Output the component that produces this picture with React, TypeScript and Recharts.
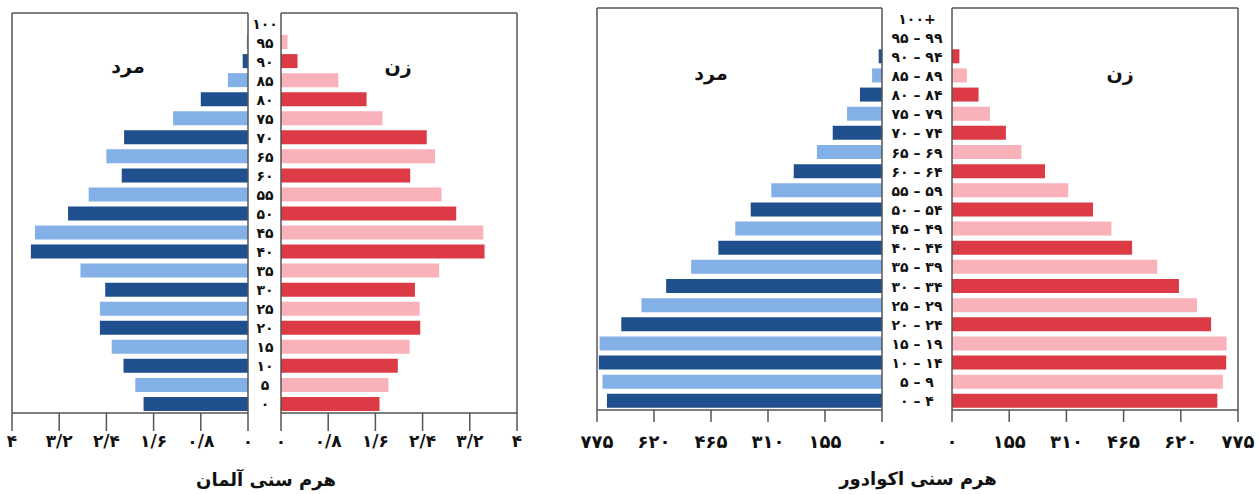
import { BarChart, Bar, XAxis, YAxis, Cell } from "recharts";

// Germany (percent of population), age 0 -> 100
const deAges = ["۰", "۵", "۱۰", "۱۵", "۲۰", "۲۵", "۳۰", "۳۵", "۴۰", "۴۵", "۵۰", "۵۵", "۶۰", "۶۵", "۷۰", "۷۵", "۸۰", "۸۵", "۹۰", "۹۵", "۱۰۰"];
const deMale = [1.77, 1.91, 2.11, 2.31, 2.51, 2.51, 2.42, 2.84, 3.68, 3.61, 3.05, 2.7, 2.14, 2.4, 2.1, 1.27, 0.8, 0.34, 0.09, 0.02, 0];
const deFemale = [1.67, 1.82, 1.98, 2.18, 2.36, 2.35, 2.27, 2.68, 3.45, 3.43, 2.97, 2.72, 2.19, 2.61, 2.47, 1.72, 1.45, 0.97, 0.28, 0.11, 0];
const deTicks = [0, 0.8, 1.6, 2.4, 3.2, 4];
const deTickLabels = ["۰", "۰/۸", "۱/۶", "۲/۴", "۳/۲", "۴"];

// Ecuador (thousands), age group 0-4 -> 100+
const ecAges = ["۰ – ۴", "۵ – ۹", "۱۰ – ۱۴", "۱۵ – ۱۹", "۲۰ – ۲۴", "۲۵ – ۲۹", "۳۰ – ۳۴", "۳۵ – ۳۹", "۴۰ – ۴۴", "۴۵ – ۴۹", "۵۰ – ۵۴", "۵۵ – ۵۹", "۶۰ – ۶۴", "۶۵ – ۶۹", "۷۰ – ۷۴", "۷۵ – ۷۹", "۸۰ – ۸۴", "۸۵ – ۸۹", "۹۰ – ۹۴", "۹۵ – ۹۹", "۱۰۰+"];
const ecMale = [748, 760, 770, 768, 709, 654, 587, 519, 445, 399, 357, 301, 240, 177, 134, 95, 60, 27, 9, 0, 0];
const ecFemale = [719, 734, 743, 744, 702, 664, 615, 556, 488, 432, 382, 315, 252, 188, 146, 103, 72, 40, 20, 0, 0];
const ecTicks = [0, 155, 310, 465, 620, 775];
const ecTickLabels = ["۰", "۱۵۵", "۳۱۰", "۴۶۵", "۶۲۰", "۷۷۵"];

const BLUE_DARK = "#1f4f8c";
const BLUE_LIGHT = "#84b0e8";
const RED_DARK = "#dc3b45";
const RED_LIGHT = "#f9b1ba";
const LINE = "#555";
const FONT = "'DejaVu Sans', sans-serif";
const H = 470;
const LABEL_Y = 441;
const PAD = 20;
const LTR: React.CSSProperties = { direction: "ltr", unicodeBidi: "bidi-override" };

type PanelProps = {
  ages: string[];
  values: number[];
  side: "male" | "female";
  ticks: number[];
  tickLabels: string[];
  plotLeft: number;
  plotTop: number;
  plotBottom: number;
  plotWidth: number;
  gap: number;
  tickSize: number;
  labelOffset: number;
  tickFont: number;
  tickSpacing: number;
};

function Panel({ ages, values, side, ticks, tickLabels, plotLeft, plotTop, plotBottom, plotWidth, gap, tickSize, labelOffset, tickFont, tickSpacing }: PanelProps) {
  const isMale = side === "male";
  const data = ages.map((age, i) => ({ age, value: values[i] }));
  const leftAxisW = isMale ? 1 : gap;
  const marginLeft = isMale ? PAD : 0;
  const divLeft = plotLeft - leftAxisW - marginLeft;
  const width = marginLeft + leftAxisW + plotWidth + 1 + PAD;
  const axisStyle = { stroke: LINE, strokeWidth: 1.5 };
  const max = ticks[ticks.length - 1];

  const xTick = ({ x, payload }: { x: number; payload: { value: number } }) => (
    <text x={x} y={LABEL_Y} textAnchor="middle" dominantBaseline="central"
      fontFamily={FONT} fontWeight="bold" fontSize={tickFont} letterSpacing={tickSpacing}
      fill="#111" style={LTR}>
      {tickLabels[ticks.indexOf(payload.value)]}
    </text>
  );

  const ageTick = ({ x, y, payload }: { x: number; y: number; payload: { value: string } }) => (
    <text x={x - labelOffset} y={y + 1} textAnchor="middle" dominantBaseline="central"
      fontFamily={FONT} fontWeight="bold" fontSize={14} fill="#111" style={LTR}>
      {payload.value}
    </text>
  );

  return (
    <div style={{ position: "absolute", left: divLeft, top: 0 }}>
      <BarChart
        width={width}
        height={H}
        layout="vertical"
        data={data}
        margin={{ top: plotTop - 1, right: PAD, bottom: 0, left: marginLeft }}
        barSize={14}
      >
        <XAxis xAxisId="b" type="number" domain={[0, max]} ticks={ticks} reversed={isMale}
          height={H - plotBottom} tickSize={tickSize} tickLine={axisStyle} axisLine={axisStyle}
          tick={xTick} interval={0} />
        <XAxis xAxisId="t" orientation="top" type="number" domain={[0, max]} reversed={isMale}
          height={1} tick={false} tickLine={false} axisLine={axisStyle} />
        <YAxis yAxisId="main" type="category" dataKey="age" reversed orientation="left"
          width={leftAxisW} tickSize={0} tickMargin={0} tickLine={false}
          tick={isMale ? false : ageTick} interval={0} axisLine={axisStyle} />
        <YAxis yAxisId="r" type="category" dataKey="age" reversed orientation="right"
          width={1} tick={false} tickLine={false} axisLine={axisStyle} />
        <Bar dataKey="value" xAxisId="b" yAxisId="main" isAnimationActive={false}>
          {data.map((_, i) => (
            <Cell key={i}
              fill={isMale ? (i % 2 === 0 ? BLUE_DARK : BLUE_LIGHT) : i % 2 === 0 ? RED_DARK : RED_LIGHT} />
          ))}
        </Bar>
      </BarChart>
    </div>
  );
}

const textStyle = (x: number, y: number, size: number): React.CSSProperties => ({
  position: "absolute",
  left: x,
  top: y,
  transform: "translate(-50%, -50%)",
  fontFamily: FONT,
  fontWeight: "bold",
  fontSize: size,
  color: "#111",
  direction: "rtl",
  whiteSpace: "nowrap",
});

export default function App() {
  return (
    <div style={{ position: "absolute", left: 0, top: 0, width: 1259, height: 494, background: "#fff" }}>
      <Panel ages={deAges} values={deMale} side="male" ticks={deTicks} tickLabels={deTickLabels}
        plotLeft={12} plotTop={13} plotBottom={413} plotWidth={236} gap={33} tickSize={18}
        labelOffset={16} tickFont={17} tickSpacing={3} />
      <Panel ages={deAges} values={deFemale} side="female" ticks={deTicks} tickLabels={deTickLabels}
        plotLeft={281} plotTop={13} plotBottom={413} plotWidth={236} gap={33} tickSize={18}
        labelOffset={16} tickFont={17} tickSpacing={3} />
      <Panel ages={ecAges} values={ecMale} side="male" ticks={ecTicks} tickLabels={ecTickLabels}
        plotLeft={597} plotTop={8} plotBottom={410} plotWidth={285} gap={70} tickSize={12}
        labelOffset={35} tickFont={18} tickSpacing={0} />
      <Panel ages={ecAges} values={ecFemale} side="female" ticks={ecTicks} tickLabels={ecTickLabels}
        plotLeft={952} plotTop={8} plotBottom={410} plotWidth={286} gap={70} tickSize={12}
        labelOffset={35} tickFont={18} tickSpacing={0} />

      <div style={textStyle(128, 66, 19)}>مرد</div>
      <div style={textStyle(398, 66, 19)}>زن</div>
      <div style={textStyle(711, 73, 19)}>مرد</div>
      <div style={textStyle(1120, 73, 19)}>زن</div>
      <div style={textStyle(266, 479, 18)}>هرم سنی آلمان</div>
      <div style={textStyle(918, 478, 18)}>هرم سنی اکوادور</div>
    </div>
  );
}
